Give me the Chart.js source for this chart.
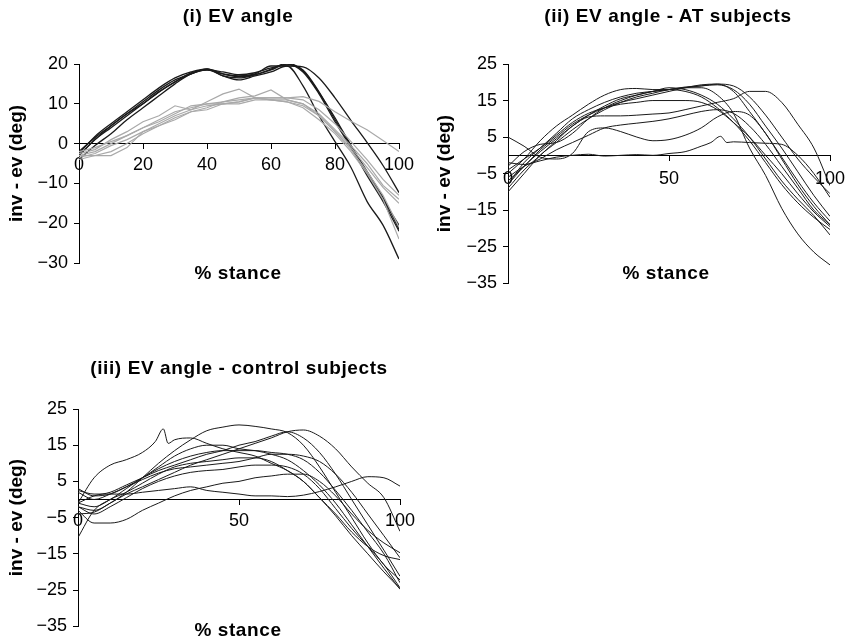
<!DOCTYPE html>
<html><head><meta charset="utf-8">
<script src="https://cdn.jsdelivr.net/npm/chart.js@4.4.1/dist/chart.umd.min.js"></script>
<style>
html,body{margin:0;padding:0;background:#fff}
body{width:857px;height:643px;overflow:hidden;position:relative;font-family:"Liberation Sans",Arial,sans-serif}
canvas{position:absolute}
.t{position:absolute;font-weight:bold;font-size:19px;letter-spacing:0.6px;transform:translate(-50%,-50%);white-space:nowrap;color:#000}
</style></head><body>
<canvas id="c1" width="428" height="300" style="left:0;top:0;width:428px;height:300px"></canvas>
<canvas id="c2" width="437" height="300" style="left:420px;top:0;width:437px;height:300px"></canvas>
<canvas id="c3" width="428" height="323" style="left:0;top:320px;width:428px;height:323px"></canvas>
<div class="t" style="left:238px;top:16px">(i) EV angle</div>
<div class="t" style="left:668px;top:16px">(ii) EV angle - AT subjects</div>
<div class="t" style="left:239px;top:368px">(iii) EV angle - control subjects</div>
<div class="t" style="left:238px;top:273px">% stance</div>
<div class="t" style="left:666px;top:273px">% stance</div>
<div class="t" style="left:238px;top:630px">% stance</div>
<script>
// shared x positions (% stance)
const X5 = [0,5,10,15,20,25,30,35,40,45,50,55,60,65,70,75,80,85,90,95,100];

// (i) EV angle: AT group (black) and control group (grey)
const evBlack1 = [-3,1,4.5,7.5,10,13,15.5,17.5,18.5,17.5,17,17.5,19.5,19.5,14.5,7,0.5,-6,-14.5,-20.5,-29];
const evBlack2 = [-2,1.5,4.5,7.5,10.5,13.5,16,17.5,18.8,17.5,16.8,17.3,18.5,20,18,12.5,5.5,-1,-8,-14.5,-22];
const evBlack3 = [-3,1,4,7,10,13,15.5,17.8,18.5,18,17.3,17.8,19,19.8,18.5,13,6,-0.5,-7.5,-14,-20.5];
const evBlack4 = [-2.5,1.8,5,8,11,14,16.5,18,18.8,17,16.5,17.3,18.7,20.2,18.3,12.8,6.5,-0.5,-7,-13.5,-21.5];
const evBlack5 = [-4,-0.5,2.5,6,9,12,15,17.5,18.5,17,16,17,18,19.5,19.3,16.5,11.5,5.8,0.3,-5.5,-12.3];
const evGray1 = [-3,-2,0,2,4,6,8,9,10,10.5,11,11.5,11.5,11.5,11.8,10.6,8,5.6,3.5,0.8,-2];
const evGray2 = [-2.5,-1.5,1,3,5.5,7,9.5,8.5,10.5,12.5,13.7,11.5,11,10.5,9.5,7,3,-1,-6,-11,-15];
const evGray3 = [-4,-3,-2,0,2.5,4.5,6.5,8,9,10.5,11.5,12,13.5,11,10,7.5,3.5,-0.5,-5,-10.5,-14];
const evGray4 = [-3,-3,-3,-1,3,5,7,8.5,9.5,10,10.5,11.5,11,11,10,7,3,-1.5,-7,-13,-21];
const evGray5 = [-2,-1,0.5,2,4,5.5,7.5,9.5,10,10,10,11,11,10.5,9,6,2.5,-2,-7.5,-14,-24];
const evGray6 = [-3.5,-2.5,-0.5,1,3,4.5,6,8,8.5,10,10.5,11.5,11.5,11.5,11,8.5,5,0.5,-4,-9,-13];

// (ii) AT subjects
const at1 = [-8,-3,1,4.5,8,11,13.5,15.5,16.5,17.5,18,18.5,18.5,16.5,11.5,2,-5.5,-14.5,-21.5,-26.5,-30];
const at2 = [-9,-4,0,4,8,10.5,10.8,10.8,11,11.3,11.6,12.5,13.5,14.5,15.5,17.5,17.5,14.5,8.5,2,-8.3];
const at3 = [5,2.5,-0.5,-1,0.5,6.5,7.5,6.5,5,4,4.3,5.5,7.5,10.5,12,11,6,-1,-8,-14,-19];
const atX4 = [0,5,10,15,20,25,30,35,40,45,50,55,60,63,66,68,70,75,80,85,90,95,100];
const at4 = [-2,-2.5,-1.5,-0.5,0,0.3,-0.2,0,0.2,0,0.5,1,2.5,3.5,5.2,3.5,3.7,3.5,3.3,3,0,-5,-11.5];
const at5 = [-5,-1,4,8,11,14,16.5,18,18.3,18,18,17.5,16,13,9,4,-2,-8,-13,-17,-20.3];
const at6 = [-7,-3,1.5,5,8.5,11,13,14.5,15.5,16.5,17.5,18.5,19.3,19.5,17.5,12,6,-0.5,-7,-13,-18];
const at7 = [-10,-5,0,3.5,7,10,12.5,14.5,16,17,18,18.5,19,19.3,18,14,8,2,-4.5,-11,-16.7];
const at8 = [-3,1,3,3.5,6,10,13,15,16.5,17.5,18.5,18,16.5,14,10,5,-1,-7,-12,-16.5,-21.8];
const at9 = [-4,-1,2,5.5,9,11.5,13,14,14.5,15,15,15,14.5,12.5,9,5,0,-5,-10.5,-15.5,-19.5];
const at10 = [-6,-3,-1,1.5,3.5,5.5,7.5,8.3,8.8,9.3,10,11,12,12.5,11.5,8,3,-3,-9,-15,-19];
const at11 = [-8,-2,2,6,10,12.5,14.5,16,17,17.5,18,18.7,19,19.5,19,16,11,5,-1,-6,-10.5];

// (iii) control subjects
const ctX1 = [0,5,10,15,20,24,26.5,28,30,35,40,45,50,55,60,65,70,75,80,85,90,95,100];
const ct1 = [-1,6,9.5,11,13,16,19.5,15.5,16.5,17,15.5,14,13,12,10,8,5,0.5,-4.5,-10,-15,-20,-24.6];
const ct2 = [-2,-3,-1,2,6,10,13.5,16.5,19,20,20.6,20.2,19.5,18.5,15,9,2,-5,-12,-18,-22.2];
const ct3 = [-4,-3.5,-1,1.5,3.5,5.5,7.5,9.5,11,12.5,14,15.5,17,18.7,19.2,17.5,14,9,4.5,0.5,-8.8];
const ct4 = [2.5,1.5,1.5,1.5,2,2.5,3,3.5,2.5,2,1.5,1,1,0.8,1.2,2.2,3.5,5,6.3,6,3.7];
const ct5 = [-3,-6.5,-6.5,-5.5,-3,-1,1,2.5,3.5,4.5,5,6,6.5,7,7,5,1,-4,-8.5,-12,-14.7];
const ct6 = [-1,1,2,4,6,8,9.5,11,12.5,13.5,15,16,17.5,18.7,17,13,7,0,-7,-14,-21.2];
const ct7 = [3,1,1.5,3.5,6,9,12,14,15,15,14,13.5,12.5,11,8,4,-1,-7,-13,-19,-24.8];
const ct8 = [-1,-2,0,3,6,8.5,10.5,12,13,13.5,13.5,13.5,13,12.5,11,7.5,2.5,-3,-9,-15,-23];
const ct9 = [2,0,1.5,3.5,5.5,7.3,8.5,9,9.5,10,10.5,11.5,12.5,12.5,12,10.5,7,2,-4,-10,-16.1];
const ct10 = [-2,-4,-2,0.5,3,5,6.5,7.5,8,8.3,9,9.5,9.5,9,7,3,-2.5,-8,-13,-18,-24.4];
const ct11 = [-10.5,-3,0,2,4.5,7,9,10,10.5,11,11.5,11.5,10.5,8,5,0.5,-4,-9,-13,-15.5,-16.6];

const FONT = '"Liberation Sans", Arial, sans-serif';
Chart.defaults.font.family = FONT;
Chart.defaults.color = '#000';

function pts(xs, ys) { return ys.map((y, i) => ({x: xs[i], y: y})); }
function ds(xs, ys, color, width, tension) {
  return {data: pts(xs, ys), borderColor: color, borderWidth: width, pointRadius: 0,
          fill: false, tension: tension, cubicInterpolationMode: tension ? 'monotone' : 'default'};
}
const minus = v => String(v).replace('-', '\u2212');

function makeChart(id, datasets, cfg) {
  return new Chart(document.getElementById(id), {
    type: 'line',
    data: {datasets: datasets},
    options: {
      responsive: false, animation: false, events: [],
      layout: {padding: cfg.pad},
      plugins: {legend: {display: false}, tooltip: {enabled: false}, title: {display: false}},
      scales: {
        x: {
          type: 'linear', min: 0, max: 100, position: {y: 0},
          ticks: {stepSize: cfg.xStep, autoSkip: false, maxRotation: 0, padding: cfg.xpad,
                  font: {size: 18}, color: '#000', callback: v => minus(v)},
          grid: {display: true, drawOnChartArea: false, drawTicks: true, tickLength: 5, color: '#000', lineWidth: 1},
          border: {display: true, color: '#000', width: 1},
          afterFit: s => { s.height = 0; }
        },
        y: {
          type: 'linear', min: cfg.ymin, max: cfg.ymax, position: 'left',
          ticks: {stepSize: 10, autoSkip: false, padding: 6, font: {size: 18}, color: '#000', callback: v => minus(v)},
          grid: {display: true, drawOnChartArea: false, drawTicks: true, tickLength: 5, color: '#000', lineWidth: 1},
          border: {display: true, color: '#000', width: 1},
          title: {display: true, text: 'inv - ev (deg)', color: '#000',
                  font: {size: 19, weight: 'bold'}, padding: {top: cfg.tpad, bottom: 0}},
          afterFit: s => { s.width = cfg.yw; }
        }
      }
    }
  });
}

const BLK = '#1a1a1a', GRY = '#a9a9a9';
makeChart('c1', [
  ds(X5, evGray1, GRY, 1.2, 0), ds(X5, evGray2, GRY, 1.2, 0), ds(X5, evGray3, GRY, 1.2, 0),
  ds(X5, evGray4, GRY, 1.2, 0), ds(X5, evGray5, GRY, 1.2, 0), ds(X5, evGray6, GRY, 1.2, 0),
  ds(X5, evBlack1, BLK, 1.3, 0.4), ds(X5, evBlack2, BLK, 1.3, 0.4), ds(X5, evBlack3, BLK, 1.3, 0.4),
  ds(X5, evBlack4, BLK, 1.3, 0.4), ds(X5, evBlack5, BLK, 1.3, 0.4)
], {pad: {top: 64, right: 29, bottom: 37, left: 0}, yw: 79, tpad: 5, xStep: 20, xpad: 6, ymin: -30, ymax: 20});

makeChart('c2', [
  ds(X5, at1, BLK, 1, 0.4), ds(X5, at2, BLK, 1, 0.4), ds(X5, at3, BLK, 1, 0.4), ds(atX4, at4, BLK, 1, 0.3),
  ds(X5, at5, BLK, 1, 0.4), ds(X5, at6, BLK, 1, 0.4), ds(X5, at7, BLK, 1, 0.4), ds(X5, at8, BLK, 1, 0.4),
  ds(X5, at9, BLK, 1, 0.4), ds(X5, at10, BLK, 1, 0.4), ds(X5, at11, BLK, 1, 0.4)
], {pad: {top: 64, right: 27, bottom: 13, left: 0}, yw: 88, tpad: 13, xStep: 50, xpad: 8, ymin: -35, ymax: 25});

makeChart('c3', [
  ds(ctX1, ct1, BLK, 1, 0.3), ds(X5, ct2, BLK, 1, 0.4), ds(X5, ct3, BLK, 1, 0.4), ds(X5, ct4, BLK, 1, 0.4),
  ds(X5, ct5, BLK, 1, 0.4), ds(X5, ct6, BLK, 1, 0.4), ds(X5, ct7, BLK, 1, 0.4), ds(X5, ct8, BLK, 1, 0.4),
  ds(X5, ct9, BLK, 1, 0.4), ds(X5, ct10, BLK, 1, 0.4), ds(X5, ct11, BLK, 1, 0.4)
], {pad: {top: 89, right: 28, bottom: 16, left: 0}, yw: 78, tpad: 5, xStep: 50, xpad: 6, ymin: -35, ymax: 25});
</script>
</body></html>
